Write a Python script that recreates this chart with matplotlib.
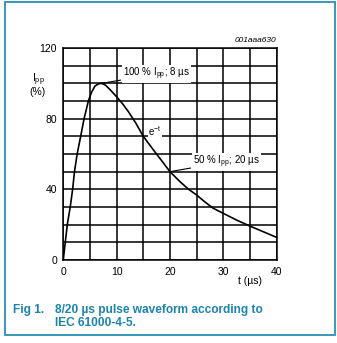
import matplotlib
matplotlib.use("Agg")
import matplotlib.pyplot as plt
from matplotlib.patches import Rectangle

plt.rcParams['font.family'] = ['Liberation Sans', 'DejaVu Sans']
plt.rcParams['mathtext.fontset'] = 'custom'
plt.rcParams['mathtext.rm'] = 'Liberation Sans'
plt.rcParams['mathtext.it'] = 'Liberation Sans'

# pulse waveform, current in % of Ipp against time in µs
t_us = [0, 0.37, 0.75, 1.3, 1.75, 2.1, 2.6, 3.26, 3.9, 4.7, 5.3, 5.95, 6.6, 7.2,
        7.9, 8.75, 10, 11.1, 12.2, 13.6, 15, 16.9, 18.5, 20, 21.9, 23.5, 25,
        26.5, 28.1, 30, 32.5, 35, 37.5, 40]
ipp_pct = [0, 10, 20, 30, 40, 50, 60, 70, 80, 90, 95, 98.5, 99.7, 100,
           99, 96.5, 92.4, 88.5, 84, 77.5, 70, 62.3, 56, 50, 44.3, 40, 36.8,
           33, 29.3, 26.4, 22.6, 19.2, 16, 12.8]

x_ticks = [0, 10, 20, 30, 40]
y_ticks = [0, 40, 80, 120]

frame_col = '#2b8fb2'
text_col = '#1b84ad'

fig = plt.figure(figsize=(3.37, 3.43), dpi=100)
fig.patches.append(Rectangle((0.0148, 0.0233), 0.978, 0.971, transform=fig.transFigure,
                             fill=False, edgecolor=frame_col, linewidth=1.3))

ax = fig.add_axes([0.1878, 0.242, 0.633, 0.618])
ax.plot(t_us, ipp_pct, color='black', linewidth=1.2)
ax.set_xlim(0, 40)
ax.set_ylim(0, 120)
ax.set_xticks(x_ticks)
ax.set_yticks(y_ticks)
ax.set_xticks(range(0, 41, 5), minor=True)
ax.set_yticks(range(0, 121, 10), minor=True)
ax.grid(True, which='both', color='black', linewidth=1.1)
ax.tick_params(which='both', length=0, labelsize=7.5)
ax.tick_params(axis='x', pad=5)
ax.tick_params(axis='y', pad=4.5)
for s in ax.spines.values():
    s.set_linewidth(1.1)

# annotations
lbl = dict(fontsize=7, va='center', ha='left',
           arrowprops=dict(arrowstyle='-', color='black', linewidth=0.8,
                           shrinkA=1, shrinkB=0),
           bbox=dict(boxstyle='square,pad=0.1', fc='white', ec='none'))
ax.annotate('100 % I$_{\\mathregular{pp}}$; 8 µs', xy=(7.2, 100), xytext=(11.2, 105.3), **lbl)
ax.annotate('50 % I$_{\\mathregular{pp}}$; 20 µs', xy=(20, 50), xytext=(24.3, 55.6), **lbl)
ax.text(15.9, 73, 'e$^{\\mathregular{-t}}$', fontsize=7, va='center', ha='left',
        bbox=dict(boxstyle='square,pad=0.05', fc='white', ec='none'))

fig.text(276 / 337, 1 - 41 / 343, '001aaa630', fontsize=6, style='italic',
         ha='right', va='center')
fig.text(38 / 337, 1 - 80 / 343, 'I$_{\\mathregular{pp}}$', fontsize=7.5, ha='center', va='center')
fig.text(38 / 337, 1 - 92 / 343, '(%)', fontsize=7.5, ha='center', va='center')
fig.text(250 / 337, 1 - 281 / 343, 't (µs)', fontsize=7.5, ha='center', va='center')

# caption
cap = dict(fontsize=8.6, fontweight='bold', color=text_col, ha='left', va='baseline')
fig.text(13 / 337, 1 - 312.7 / 343, 'Fig 1.', **cap)
fig.text(55 / 337, 1 - 312.7 / 343, '8/20 µs pulse waveform according to', **cap)
fig.text(55 / 337, 1 - 325.7 / 343, 'IEC 61000-4-5.', **cap)

fig.savefig('out.png', dpi=100)
